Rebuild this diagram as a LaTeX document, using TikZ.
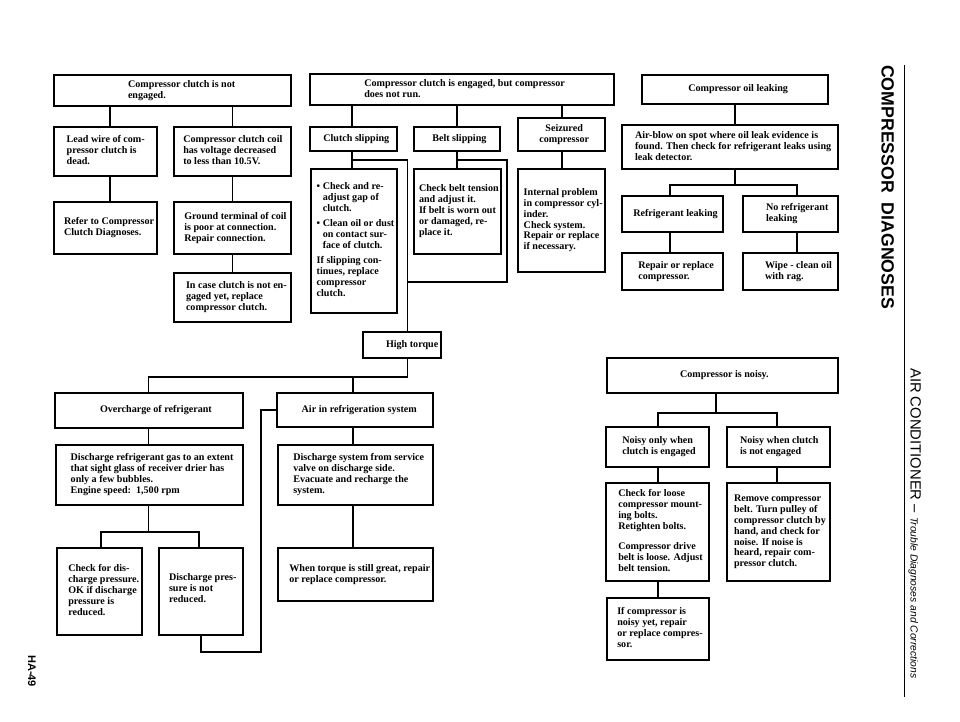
\documentclass[tikz,border=0pt]{standalone}
\usepackage{fontspec}
\setmainfont{Liberation Serif}
\newfontfamily\sidefont{Liberation Sans}
% \bx[style]{name}{x1}{x2}{y1}{y2}{text-left}{lines}
\newcommand\bx[8][]{%
  \node[box,#1,minimum height={#6-#5}] (#2) at ({(#3+#4)/2},{(#5+#6)/2})
    {\makebox[\dimexpr#4pt-#3pt\relax][l]{\hspace*{\dimexpr#7pt-#3pt\relax}\begin{tabular}{@{}l@{}}#8\end{tabular}}};}
\begin{document}
\begin{tikzpicture}[x=1pt,y=-1pt,
  box/.style={draw, line width=1.3pt, inner sep=0pt, rectangle, anchor=center,
    font=\bfseries\fontsize{10.1}{10.85}\selectfont},
  title/.style={line width=2.6pt},
  ln/.style={line width=1.3pt, line cap=rect},
  side/.style={rotate=-90, anchor=base west, inner sep=0pt}]
\useasboundingbox (0,0) rectangle (960,722);
\fill[white] (0,0) rectangle (960,722);

% ---------- group A ----------
\bx[title]{A0}{54}{291}{75}{106}{128}{Compressor clutch is not\\engaged.}
\bx{A1}{54}{157}{127}{176}{66.7}{Lead wire of com-\\pressor clutch is\\dead.}
\bx{A2}{174}{291}{127}{176}{183.3}{Compressor clutch coil\\has voltage decreased\\to less than 10.5V.}
\bx{A3}{54}{157}{202}{254}{64}{Refer to Compressor\\Clutch Diagnoses.}
\bx{A4}{174}{291}{202}{254}{184.3}{Ground terminal of coil\\is poor at connection.\\Repair connection.}
\bx{A5}{174}{291}{273}{322}{186}{In case clutch is not en-\\gaged yet, replace\\compressor clutch.}

% ---------- group B ----------
\bx[title]{B0}{310}{614}{74}{105}{364.3}{Compressor clutch is engaged, but compressor\\does not run.}
\bx{B1}{310}{397}{127}{151}{323.3}{Clutch slipping}
\bx{B2}{414}{500}{127}{151}{432.3}{Belt slipping}
\bx{B3}{518}{605}{118}{151}{539.3}{\multicolumn{1}{@{}c@{}}{Seizured}\\compressor}
\bx{B4}{311}{397}{169}{313}{316.7}{\textbullet\ Check and re-\\\hphantom{\textbullet\ }adjust gap of\\\hphantom{\textbullet\ }clutch.\\[4.5pt]\textbullet\ Clean oil or dust\\\hphantom{\textbullet\ }on contact sur-\\\hphantom{\textbullet\ }face of clutch.\\[4.5pt]If slipping con-\\tinues, replace\\compressor\\clutch.}
\bx{B5}{414}{501}{169}{254}{419}{Check belt tension\\and adjust it.\\If belt is worn out\\or damaged, re-\\place it.}
\bx{B6}{518}{605}{169}{272}{523.7}{Internal problem\\in compressor cyl-\\inder.\\Check system.\\Repair or replace\\if necessary.\\ }
\bx{B7}{363}{441}{332}{358}{386}{High torque}

% ---------- group C ----------
\bx{C1}{55}{243}{393}{428}{100}{Overcharge of refrigerant}
\bx{C2}{277}{433}{393}{427}{301.7}{Air in refrigeration system}
\bx{C3}{56}{243}{445}{505}{70.7}{Discharge refrigerant gas to an extent\\that sight glass of receiver drier has\\only a few bubbles.\\Engine speed:\ \ 1,500 rpm}
\bx{C4}{278}{433}{445}{505}{293.3}{Discharge system from service\\valve on discharge side.\\Evacuate and recharge the\\system.}
\bx{C5}{57}{142}{548}{635}{68.3}{Check for dis-\\charge pressure.\\OK if discharge\\pressure is\\reduced.}
\bx{C6}{159}{243}{548}{635}{169}{Discharge pres-\\sure is not\\reduced.\\[4pt] }
\bx{C7}{278}{433}{548}{601}{289.3}{When torque is still great, repair\\or replace compressor.}

% ---------- group D ----------
\bx[title]{D0}{642}{828}{75}{104}{688.3}{Compressor oil leaking}
\bx{D1}{622}{838}{125}{169}{635}{Air-blow on spot where oil leak evidence is\\found. Then check for refrigerant leaks using\\leak detector.}
\bx{D2}{622}{723}{196}{232}{633.3}{Refrigerant leaking}
\bx{D3}{743}{838}{196}{232}{766}{No refrigerant\\leaking}
\bx{D4}{622}{723}{253}{290}{638.3}{Repair or replace\\compressor.}
\bx{D5}{743}{838}{253}{290}{765}{Wipe - clean oil\\with rag.}

% ---------- group E ----------
\bx[title]{E0}{607}{838}{358}{393}{680}{Compressor is noisy.}
\bx{E1}{606}{709}{427}{467}{622.3}{Noisy only when\\clutch is engaged}
\bx{E2}{727}{830}{427}{467}{740}{Noisy when clutch\\is not engaged}
\bx{E3}{606}{709}{483}{581}{618.3}{Check for loose\\compressor mount-\\ing bolts.\\Retighten bolts.\\[9.5pt]Compressor drive\\belt is loose. Adjust\\belt tension.}
\bx{E4}{727}{830}{483}{581}{734}{Remove compressor\\belt. Turn pulley of\\compressor clutch by\\hand, and check for\\noise. If noise is\\heard, repair com-\\pressor clutch.\\ }
\bx{E5}{607}{709}{598}{660}{617.3}{If compressor is\\noisy yet, repair\\or replace compres-\\sor.}

% ---------- junction coordinates ----------
\coordinate (xA1) at (110,0);
\coordinate (xA2) at (232.5,0);
\coordinate (xB1) at (352,0);
\coordinate (xB2) at (457,0);
\coordinate (xB3) at (562,0);
\coordinate (jb1) at (352,160);
\coordinate (jb2) at (407.5,160);
\coordinate (jb3) at (457,160);
\coordinate (jb4) at (507,160);
\coordinate (jb5) at (507,282);
\coordinate (jb6) at (407.5,282);
\coordinate (jc0) at (407.5,377);
\coordinate (jc1) at (148.5,377);
\coordinate (jc2) at (353,377);
\coordinate (jc3) at (148.5,532);
\coordinate (jc4) at (101,532);
\coordinate (jc5) at (199,532);
\coordinate (jc6) at (201,652);
\coordinate (jc7) at (261,652);
\coordinate (xD) at (735,0);
\coordinate (jd0) at (735,185);
\coordinate (jd1) at (670,185);
\coordinate (jd2) at (797,185);
\coordinate (je0) at (716,413);
\coordinate (je1) at (658,413);
\coordinate (je2) at (777,413);

% ---------- connectors A ----------
\draw[ln] (A0.south -| xA1) -- (A1.north -| xA1);
\draw[ln] (A1.south -| xA1) -- (A3.north -| xA1);
\draw[ln] (A0.south -| xA2) -- (A2.north -| xA2);
\draw[ln] (A2.south -| xA2) -- (A4.north -| xA2);
\draw[ln] (A4.south -| xA2) -- (A5.north -| xA2);

% ---------- connectors B ----------
\draw[ln] (B0.south -| xB1) -- (B1.north -| xB1);
\draw[ln] (B1.south -| xB1) -- (B4.north -| xB1);
\draw[ln] (B0.south -| xB2) -- (B2.north -| xB2);
\draw[ln] (B2.south -| xB2) -- (B5.north -| xB2);
\draw[ln] (B0.south -| xB3) -- (B3.north -| xB3);
\draw[ln] (B3.south -| xB3) -- (B6.north -| xB3);
\draw[ln] (jb1) -- (jb2) -- (B7.north -| jb2);
\draw[ln] (jb3) -- (jb4) -- (jb5) -- (jb6);
\draw[ln] (B7.south -| jc0) -- (jc0) -- (jc1) -- (C1.north -| jc1);
\draw[ln] (jc2) -- (C2.north -| jc2);

% ---------- connectors C ----------
\draw[ln] (C1.south -| jc1) -- (C3.north -| jc1);
\draw[ln] (C3.south -| jc3) -- (jc3);
\draw[ln] (jc4) -- (jc5);
\draw[ln] (jc4) -- (C5.north -| jc4);
\draw[ln] (jc5) -- (C6.north -| jc5);
\draw[ln] (C2.south -| jc2) -- (C4.north -| jc2);
\draw[ln] (C4.south -| jc2) -- (C7.north -| jc2);
\draw[ln] (C6.south -| jc6) -- (jc6) -- (jc7) |- (C2.west);

% ---------- connectors D ----------
\draw[ln] (D0.south -| xD) -- (D1.north -| xD);
\draw[ln] (D1.south -| xD) -- (jd0);
\draw[ln] (jd1) -- (jd2);
\draw[ln] (jd1) -- (D2.north -| jd1);
\draw[ln] (jd2) -- (D3.north -| jd2);
\draw[ln] (D2.south -| jd1) -- (D4.north -| jd1);
\draw[ln] (D3.south -| jd2) -- (D5.north -| jd2);

% ---------- connectors E ----------
\draw[ln] (E0.south -| je0) -- (je0);
\draw[ln] (je1) -- (je2);
\draw[ln] (je1) -- (E1.north -| je1);
\draw[ln] (je2) -- (E2.north -| je2);
\draw[ln] (E1.south -| je1) -- (E3.north -| je1);
\draw[ln] (E2.south -| je2) -- (E4.north -| je2);
\draw[ln] (E3.south -| je1) -- (E5.north -| je1);

% ---------- page margin texts ----------
\coordinate (sl0) at (904,65);
\coordinate (sl1) at (904,697);
\draw[line width=0.9pt] (sl0) -- (sl1);
\node[side, font=\sidefont\bfseries\fontsize{17.7}{17.7}\selectfont] (t1) at (881.5,65) {COMPRESSOR\ \ DIAGNOSES};
\node[side, font=\sidefont\fontsize{14.8}{14.8}\selectfont] (t2) at (910.5,368)
  {AIR CONDITIONER – {\fontsize{10.3}{10.3}\selectfont\itshape Trouble Diagnoses and Corrections}};
\node[side, font=\sidefont\bfseries\fontsize{11}{11}\selectfont] (t3) at (28,655) {HA-49};
\end{tikzpicture}
\end{document}
